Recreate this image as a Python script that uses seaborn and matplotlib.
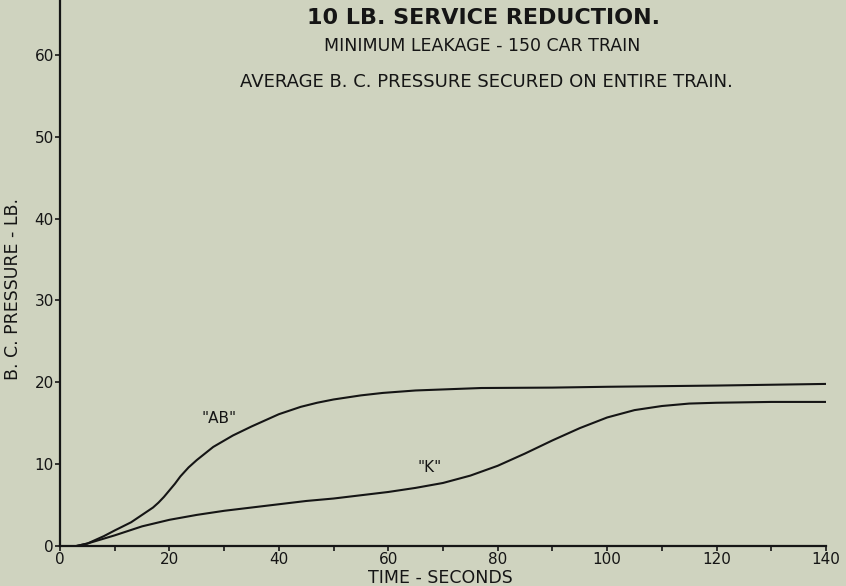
import numpy as np
import pandas as pd
import matplotlib
matplotlib.use("Agg")
import matplotlib.pyplot as plt
import seaborn as sns

# ---- data ----
ab_time = [3, 5, 8, 10, 13, 15, 17, 18, 19, 20, 21, 22, 23.5, 25, 28, 31.6, 35, 40, 44, 47, 50, 55, 59, 65, 77, 90, 100, 120, 140]
ab_pressure = [0, 0.3, 1.2, 1.9, 2.9, 3.8, 4.7, 5.3, 6.0, 6.8, 7.6, 8.5, 9.6, 10.5, 12.1, 13.5, 14.6, 16.1, 17.0, 17.5, 17.9, 18.4, 18.7, 19.0, 19.3, 19.35, 19.45, 19.6, 19.8]

k_time = [3, 5, 10, 15, 20, 25, 30, 35, 40, 45, 50, 55, 60, 65, 70, 75, 80, 85, 90, 95, 100, 105, 110, 115, 120, 130, 140]
k_pressure = [0, 0.3, 1.3, 2.4, 3.2, 3.8, 4.3, 4.7, 5.1, 5.5, 5.8, 6.2, 6.6, 7.1, 7.7, 8.6, 9.8, 11.3, 12.9, 14.4, 15.7, 16.6, 17.1, 17.4, 17.5, 17.6, 17.6]

series_labels = ['"AB"', '"K"']
x_ticks = [0, 20, 40, 60, 80, 100, 120, 140]
y_ticks = [0, 10, 20, 30, 40, 50, 60]

title_lines = ["10 LB. SERVICE REDUCTION.",
               "MINIMUM LEAKAGE - 150 CAR TRAIN",
               "AVERAGE B. C. PRESSURE SECURED ON ENTIRE TRAIN."]
x_label = "TIME - SECONDS"
y_label = "B. C. PRESSURE - LB."

df = pd.concat([
    pd.DataFrame({"time": ab_time, "pressure": ab_pressure, "series": series_labels[0]}),
    pd.DataFrame({"time": k_time, "pressure": k_pressure, "series": series_labels[1]}),
])

# ---- styling ----
bg = "#cfd3bf"
ink = "#151515"
sns.set_style("ticks")
plt.rcParams["font.family"] = ["DejaVu Sans"]

fig = plt.figure(figsize=(8.46, 5.86), dpi=100, facecolor=bg)
ax = fig.add_axes([60 / 846, 40 / 586, 766 / 846, 546 / 586])
ax.set_facecolor(bg)

sns.lineplot(data=df, x="time", y="pressure", hue="series",
             palette={series_labels[0]: ink, series_labels[1]: ink},
             linewidth=1.5, legend=False, ax=ax, sort=False)

ax.set_xlim(0, 140)
ax.set_ylim(0, 66.7)
ax.set_xticks(x_ticks)
ax.set_xticks(np.arange(10, 140, 20), minor=True)
ax.set_yticks(y_ticks)
ax.set_xticklabels([str(v) for v in x_ticks], fontsize=11, color=ink)
ax.set_yticklabels([str(v) for v in y_ticks], fontsize=11, color=ink)
ax.tick_params(axis="x", which="both", direction="out", length=3.5, width=1.2, pad=1, colors=ink)
ax.tick_params(axis="y", direction="out", length=3.5, width=1.2, pad=1, colors=ink)

for side in ["top", "right"]:
    ax.spines[side].set_visible(False)
for side in ["left", "bottom"]:
    ax.spines[side].set_linewidth(1.6)
    ax.spines[side].set_color(ink)

ax.set_xlabel(x_label, fontsize=12.5, color=ink)
ax.xaxis.set_label_coords((440 - 60) / 766, -(578 - 546) / 546)
ax.xaxis.label.set_va("center")
ax.set_ylabel(y_label, fontsize=12.5, color=ink)
ax.yaxis.set_label_coords(-(60 - 13) / 766, (546 - 289) / 546)
ax.yaxis.label.set_va("center")

# curve labels
ax.text(29, 15.6, series_labels[0], fontsize=11, color=ink, ha="center", va="center")
ax.text(67.5, 9.6, series_labels[1], fontsize=11, color=ink, ha="center", va="center")

# titles
fig.text(483 / 846, 1 - 18 / 586, title_lines[0], fontsize=16, fontweight="bold",
         color=ink, ha="center", va="center")
fig.text(482 / 846, 1 - 46 / 586, title_lines[1], fontsize=12.5, color=ink, ha="center", va="center")
fig.text(486 / 846, 1 - 82 / 586, title_lines[2], fontsize=13, color=ink, ha="center", va="center")

fig.savefig("out.png", dpi=100, facecolor=bg)
